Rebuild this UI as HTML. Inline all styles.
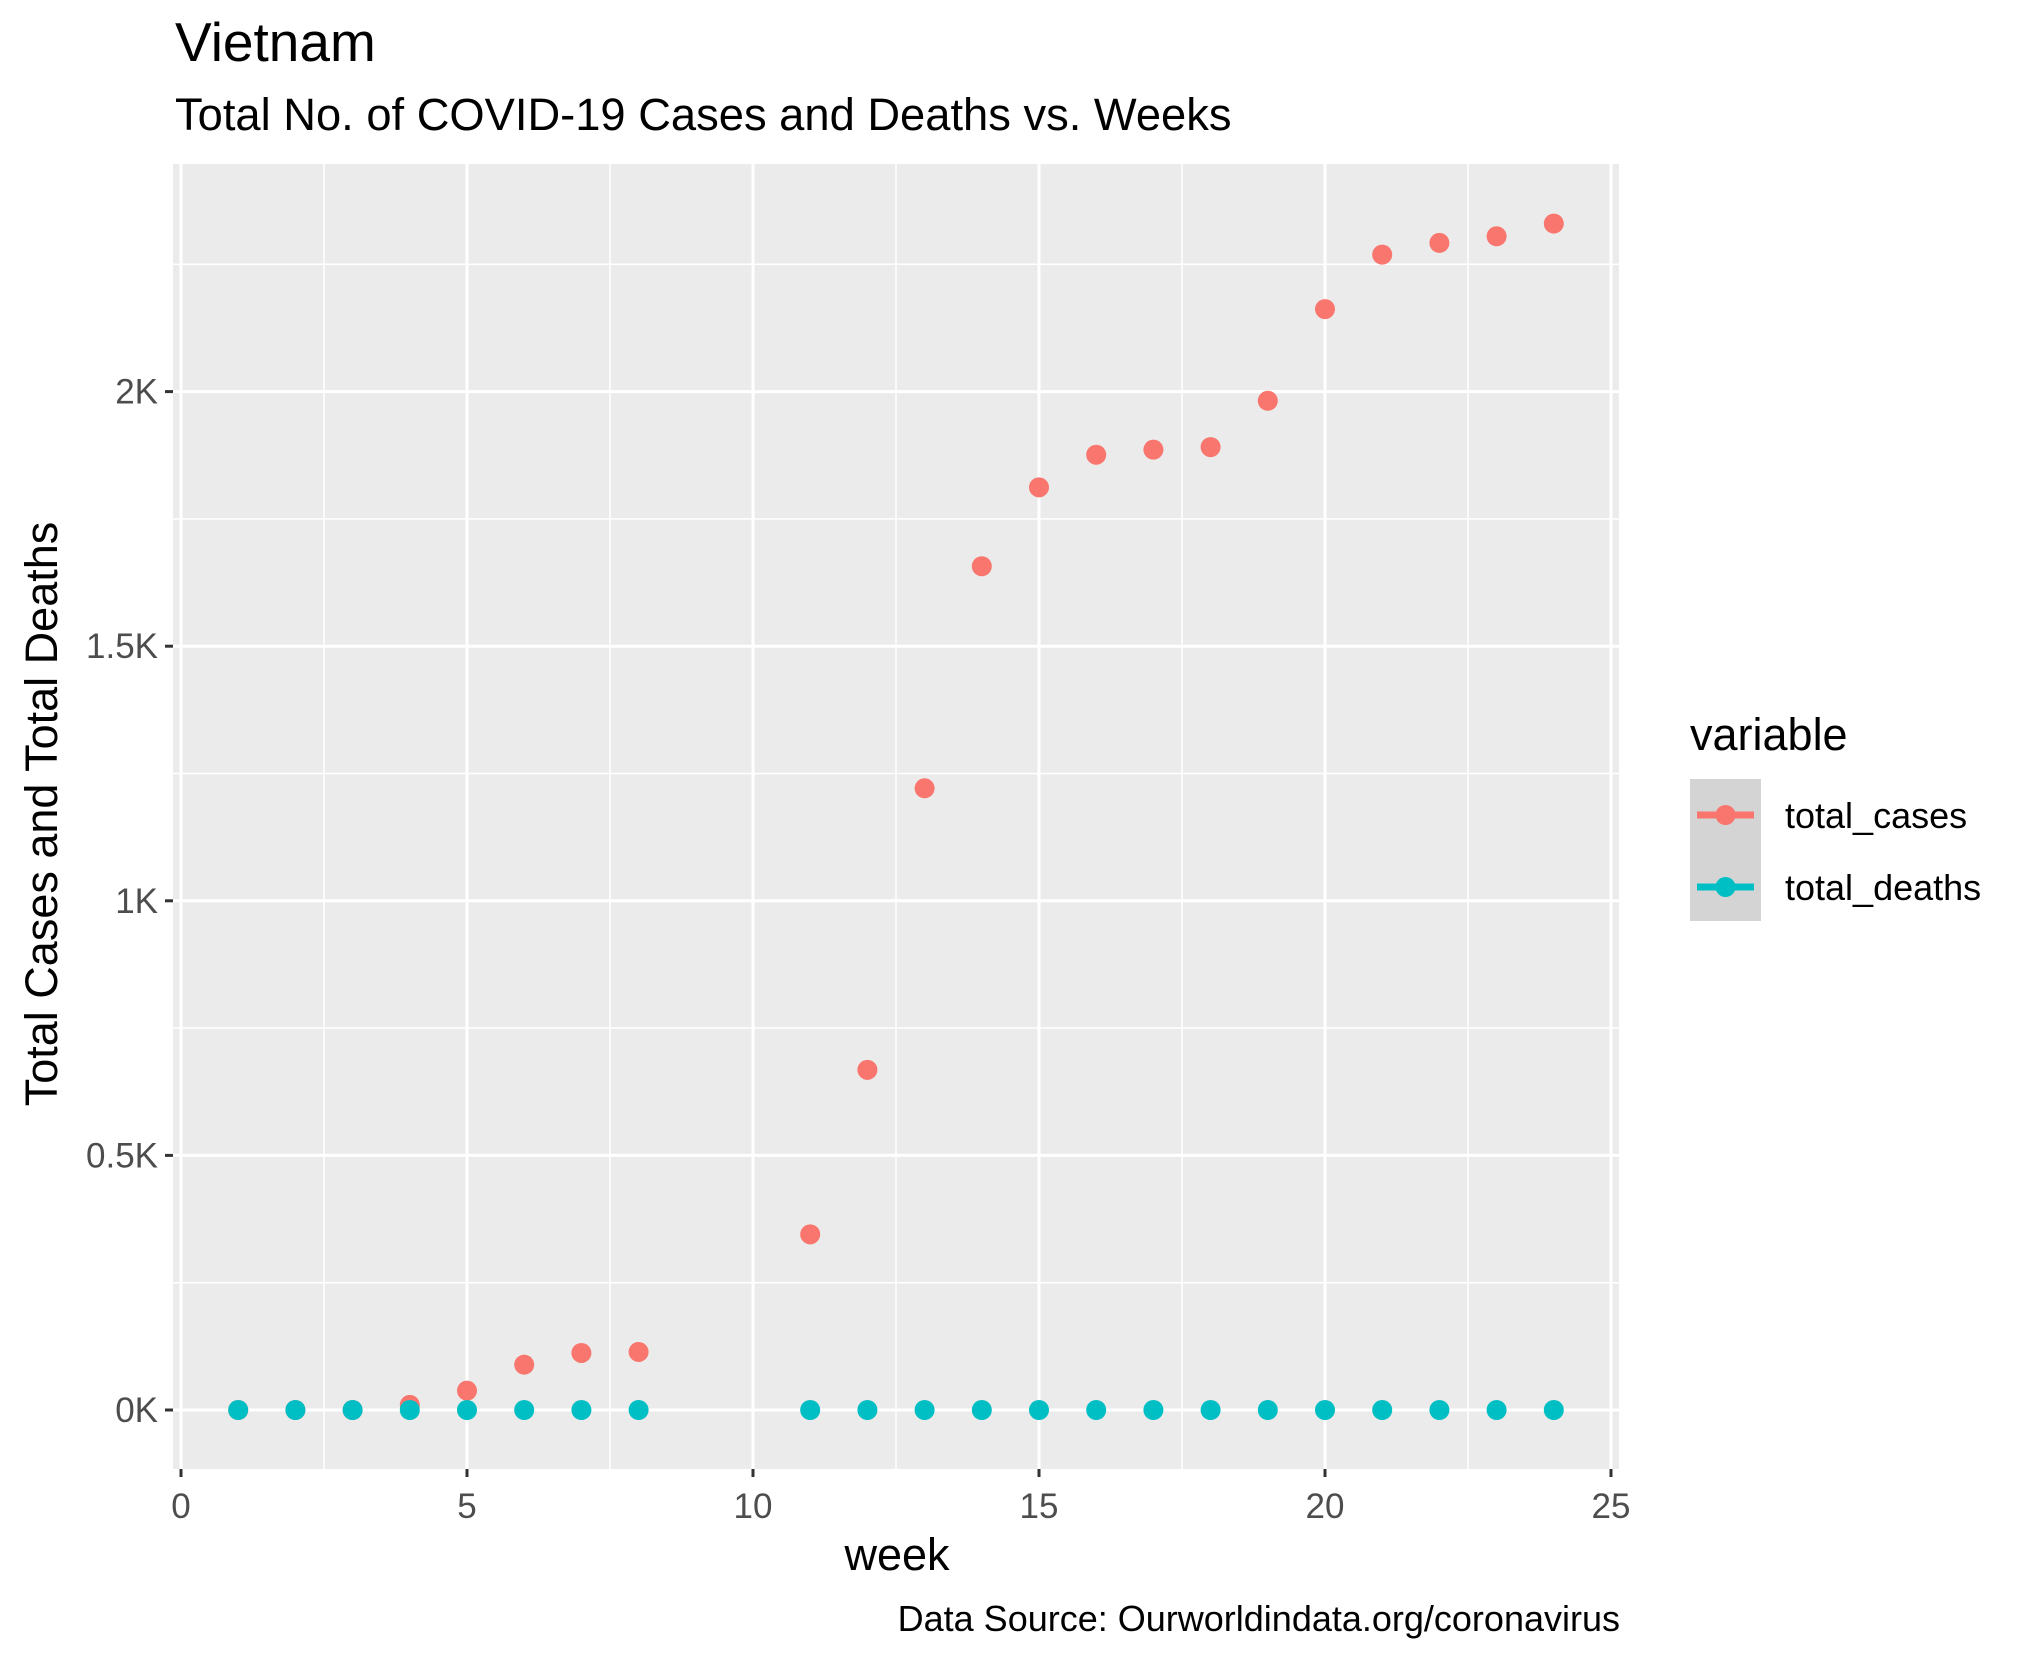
<!DOCTYPE html>
<html><head><meta charset="utf-8"><style>
html,body{margin:0;padding:0;background:#fff;}
svg{display:block;font-family:"Liberation Sans",Arial,sans-serif;}
</style></head><body>
<svg id="chart" width="2025" height="1662" viewBox="0 0 2025 1662">
<text x="175" y="61" font-size="55" fill="#000">Vietnam</text>
<text x="175" y="130" font-size="45.3" fill="#000">Total No. of COVID-19 Cases and Deaths vs. Weeks</text>
<rect x="173" y="164" width="1446" height="1305" fill="#ebebeb"/>
<g id="grid"></g>
<g id="axes"></g>
<g id="points"></g>
<text x="897" y="1570" font-size="45" text-anchor="middle" fill="#000">week</text>
<text transform="translate(57,814) rotate(-90)" font-size="45" text-anchor="middle" fill="#000">Total Cases and Total Deaths</text>
<text x="1620" y="1631" font-size="36" text-anchor="end" fill="#000">Data Source: Ourworldindata.org/coronavirus</text>
<g>
<text x="1690" y="750" font-size="45" fill="#000">variable</text>
<rect x="1690" y="779" width="71" height="142" fill="#d4d4d4"/>
<g>
<line x1="1697" x2="1754" y1="815" y2="815" stroke="#F8766D" stroke-width="7"/>
<circle cx="1725.5" cy="815" r="10" fill="#F8766D"/>
<text x="1785" y="828" font-size="36" fill="#000">total_cases</text></g>
<g>
<line x1="1697" x2="1754" y1="887" y2="887" stroke="#00BFC4" stroke-width="7"/>
<circle cx="1725.5" cy="887" r="10" fill="#00BFC4"/>
<text x="1785" y="900" font-size="36" fill="#000">total_deaths</text></g>
</g>
</svg>
<script>
const weeks = [1,2,3,4,5,6,7,8,11,12,13,14,15,16,17,18,19,20,21,22,23,24];
const totalCases = [0,0,0,10,38,89,112,114,345,668,1221,1657,1812,1876,1886,1891,1982,2162,2269,2292,2305,2330];
const totalDeaths = [0,0,0,0,0,0,0,0,0,0,0,0,0,0,0,0,0,0,0,0,0,0];
const xTicks = [0,5,10,15,20,25];
const yTicks = [0,500,1000,1500,2000];
const yTickLabels = ["0K","0.5K","1K","1.5K","2K"];

const NS="http://www.w3.org/2000/svg";
const PL=173,PR=1619,PT=164,PB=1469;
const xs = v => 181 + v*57.2;
const ys = v => 1410 - v*0.5092;
function mk(tag,attrs,parent){const e=document.createElementNS(NS,tag);for(const k in attrs)e.setAttribute(k,attrs[k]);parent.appendChild(e);return e;}
const grid=document.getElementById('grid'), axes=document.getElementById('axes'), pts=document.getElementById('points');
for(let i=0;i<xTicks.length-1;i++){const v=(xTicks[i]+xTicks[i+1])/2;
 const l=mk('line',{x1:xs(v),x2:xs(v),y1:PT,y2:PB,stroke:'#fff','stroke-width':1.5},grid);
 
 }
const yMinor=[-250,250,750,1250,1750,2250];
yMinor.forEach(v=>{const l=mk('line',{x1:PL,x2:PR,y1:ys(v),y2:ys(v),stroke:'#fff','stroke-width':1.5},grid);
 
 });
xTicks.forEach(v=>{const l=mk('line',{x1:xs(v),x2:xs(v),y1:PT,y2:PB,stroke:'#fff','stroke-width':3},grid);
 
 
 const t=mk('line',{x1:xs(v),x2:xs(v),y1:PB,y2:PB+8,stroke:'#333','stroke-width':3},axes);
 
 
 const tx=mk('text',{x:xs(v),y:PB+49,'font-size':35,'text-anchor':'middle',fill:'#4d4d4d'},axes);
 tx.textContent=v;
 
 });
yTicks.forEach((v,i)=>{const l=mk('line',{x1:PL,x2:PR,y1:ys(v),y2:ys(v),stroke:'#fff','stroke-width':3},grid);
 
 
 const t=mk('line',{x1:PL-8,x2:PL,y1:ys(v),y2:ys(v),stroke:'#333','stroke-width':3},axes);
 
 
 const tx=mk('text',{x:PL-15,y:ys(v)+12,'font-size':35,'text-anchor':'end',fill:'#4d4d4d'},axes);
 tx.textContent=yTickLabels[i];
 
 });
weeks.forEach((w,i)=>{const c=mk('circle',{cx:xs(w),cy:ys(totalCases[i]),r:10,fill:'#F8766D'},pts);
 
 });
weeks.forEach((w,i)=>{const c=mk('circle',{cx:xs(w),cy:ys(totalDeaths[i]),r:10,fill:'#00BFC4'},pts);
 
 });
</script>
</body></html>
